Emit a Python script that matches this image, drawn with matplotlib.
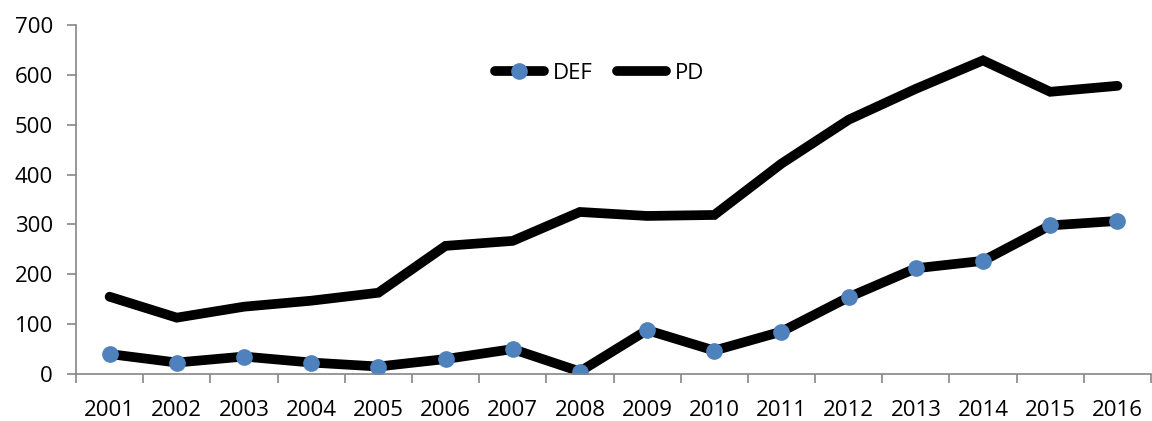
import matplotlib
matplotlib.use("Agg")
import matplotlib.pyplot as plt
import numpy as np

years = ["2001", "2002", "2003", "2004", "2005", "2006", "2007", "2008",
         "2009", "2010", "2011", "2012", "2013", "2014", "2015", "2016"]
def_values = [40, 23, 35, 23, 15, 30, 50, 5, 88, 47, 85, 154, 212, 227, 298, 307]
pd_values = [155, 113, 135, 147, 163, 257, 267, 325, 317, 319, 422, 510, 572, 629, 566, 578]
y_ticks = [0, 100, 200, 300, 400, 500, 600, 700]

plt.rcParams['font.family'] = ['Open Sans', 'DejaVu Sans']
FS = 16

fig = plt.figure(figsize=(11.52, 4.21), dpi=100)
ax = fig.add_axes([76/1152, 1 - 374/421, (1151-76)/1152, (374-25)/421])

x = np.arange(len(years))
ax.plot(x, def_values, color='black', lw=7, marker='o', markersize=11,
        markerfacecolor='#4F81BD', markeredgecolor='#4F81BD', label='DEF',
        solid_capstyle='round', solid_joinstyle='miter')
ax.plot(x, pd_values, color='black', lw=7, label='PD',
        solid_capstyle='round', solid_joinstyle='miter')

ax.set_xlim(-0.5, len(years) - 0.5)
ax.set_ylim(0, 700)
ax.set_yticks(y_ticks)
ax.set_yticklabels([str(v) for v in y_ticks], fontsize=FS)
ax.set_xticks(x)
ax.set_xticklabels(years, fontsize=FS)
ax.set_xticks(np.arange(-0.5, len(years), 1.0), minor=True)
ax.tick_params(axis='x', which='major', length=0, pad=19)
ax.tick_params(axis='x', which='minor', length=6.5, color='#868686', width=1.2, direction='out')
ax.tick_params(axis='y', length=6.5, color='#868686', width=1.2, pad=10)

for s in ['top', 'right']:
    ax.spines[s].set_visible(False)
for s in ['left', 'bottom']:
    ax.spines[s].set_color('#868686')
    ax.spines[s].set_linewidth(1.2)

leg = ax.legend(loc='center', bbox_to_anchor=(0.487, 0.862), ncol=2, frameon=False,
                fontsize=FS, handlelength=2.2, columnspacing=1.1, handletextpad=0.4)

fig.savefig("out.png", dpi=100)
